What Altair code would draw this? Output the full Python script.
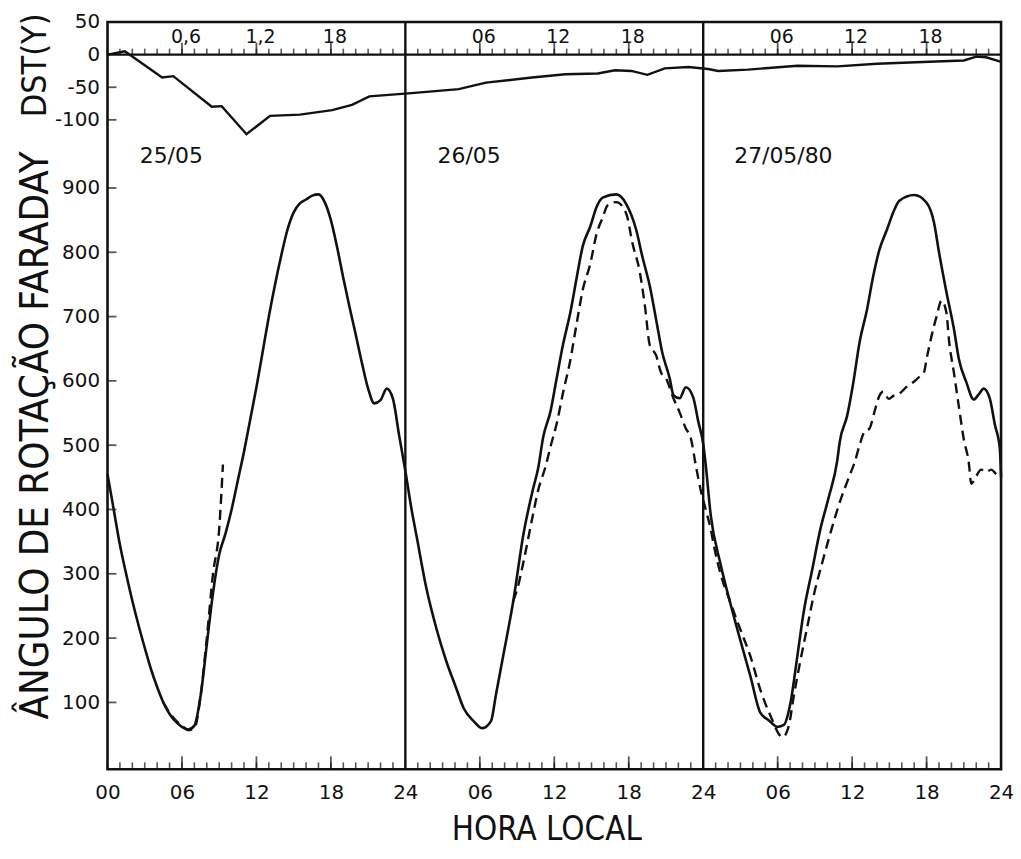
import altair as alt
import pandas as pd

# ---------------- data ----------------
# DST index (gamma), global hour 0..72
dst_hour = [0, 1.4, 4.4, 5.3, 8.4, 9.2, 11.2, 13.1, 15.5, 18.1, 19.7, 21.1, 24.5,
            28.3, 30.5, 34.2, 36.9, 39.5, 40.9, 42.2, 43.5, 44.9, 46.8, 48.4,
            49.2, 51.6, 55.6, 58.8, 62.0, 66.2, 69.0, 70.0, 70.8, 72.0]
dst_value = [0, 5, -35, -33, -80, -79, -122, -94, -92, -85, -77, -64, -59,
             -53, -43, -35, -30, -29, -24, -25, -31, -21, -19, -22,
             -25, -23, -17, -18, -14, -11, -9, -3, -4, -11]

# Faraday rotation angle, solid curve
solid_hour = [0, 0.5, 1, 1.5, 2, 2.5, 3, 3.5, 4, 4.5, 5, 5.5, 6, 6.5, 7, 7.5, 8, 8.5,
              9, 9.5, 10, 10.5, 11, 11.5, 12, 12.5, 13, 13.5, 14, 14.5, 15, 15.5, 16,
              16.5, 17, 17.5, 18, 18.5, 19, 19.5, 20, 20.5, 21, 21.5, 22, 22.5, 23,
              23.5, 24,
              24.5, 24.9, 25.7, 26.5, 27.3, 28.1, 28.7, 29.5, 30.2, 30.9, 31.3, 31.9,
              32.7, 33.5, 34.3, 34.7, 35.1, 35.7, 36.2, 36.7, 37.3, 37.8, 38.3, 38.9,
              39.4, 39.9, 41.0, 41.8, 42.6, 43.1, 43.7, 44.2, 44.7, 45.3, 45.6, 46.1,
              46.6, 47.2, 47.6, 48.0, 48.2,
              48.6, 49.4, 50.2, 51.0, 51.8, 52.6, 53.3, 54.0, 54.5, 55.0, 55.6, 56.1,
              56.8, 57.4, 58.1, 58.8, 59.0, 59.6, 60.1, 60.6, 61.2, 61.7, 62.2, 62.8,
              63.4, 63.8, 65.0, 66.0, 66.6, 67.0, 67.6, 68.2, 68.6, 69.2, 69.8, 70.2,
              70.6, 71.1, 71.5, 71.9, 72.0]
solid_value = [455, 400, 345, 300, 258, 220, 185, 152, 124, 100, 82, 70, 62, 58, 64, 110,
               190, 270, 330, 362, 400, 445, 490, 540, 590, 645, 700, 750, 795, 835, 862,
               876, 882, 888, 890, 878, 850, 808, 760, 715, 672, 628, 588, 565, 570, 588,
               572, 515, 460,
               400, 359, 277, 215, 164, 122, 91, 71, 60, 71, 112, 174,
               258, 360, 433, 464, 512, 553, 605, 656, 707, 760, 810, 840,
               870, 885, 890, 875, 835, 793, 747, 696, 644, 604, 578, 573,
               590, 574, 537, 502, 470,
               392, 315, 253, 196, 141, 84, 72, 62, 65, 96, 174, 241,
               308, 366, 418, 476, 505, 546, 598, 660, 711, 763, 804, 835,
               866, 880, 889, 877, 846, 800, 738, 681, 634, 598, 571, 579,
               588, 572, 532, 495, 450]

# Faraday rotation angle, dashed curve (two pieces)
dash_a_hour = [4.5, 5, 5.5, 6, 6.5, 7, 7.5, 8, 8.5, 9, 9.3]
dash_a_value = [100, 84, 72, 64, 57, 60, 110, 200, 300, 370, 470]

dash_b_hour = [32.7, 33.0, 33.5, 34.2, 34.7, 35.3, 35.7, 36.2, 36.7, 37.3, 37.8, 38.3,
               38.9, 39.4, 39.9, 40.3, 41.0, 41.8, 42.3, 42.9, 43.3, 43.7, 44.2, 44.6,
               45.0, 45.6, 46.1, 46.6, 47.0, 47.4, 47.8, 48.2, 48.6, 48.9, 49.4, 50.2,
               51.0, 51.8, 52.6, 53.4, 54.4, 54.9, 55.3, 55.8, 56.4, 56.9, 57.6, 58.2,
               59.0, 59.8, 60.2, 60.6, 61.0, 61.4, 61.8, 62.2, 62.5, 62.95, 63.35, 63.8,
               64.4, 65.0, 65.4, 65.8, 66.0, 66.4, 66.8, 67.2, 67.6, 67.8, 68.2, 68.6,
               69.0, 69.4, 69.6, 70.0, 70.4, 70.8, 71.2, 71.6, 72.0]
dash_b_value = [258, 275, 317, 384, 430, 467, 498, 534, 581, 633, 689, 742,
                782, 828, 854, 873, 878, 860, 814, 768, 717, 655, 640, 613,
                604, 573, 551, 526, 511, 469, 430, 400, 370, 340, 300, 255,
                213, 172, 120, 80, 46, 64, 110, 162, 219, 266, 318, 360,
                411, 453, 473, 500, 521, 526, 552, 577, 583, 572, 577, 580,
                591, 599, 606, 614, 634, 670, 700, 725, 706, 664, 613, 560,
                509, 473, 440, 452, 462, 458, 462, 455, 448]

day_line_hours = [24, 48]
hour_ticks = list(range(0, 73))
major_hours = [6, 12, 18, 30, 36, 42, 54, 60, 66]
top_label_hours = [6, 12, 18, 30, 36, 42, 54, 60, 66]
top_label_text = ["0,6", "1,2", "18", "06", "12", "18", "06", "12", "18"]
bottom_label_hours = [0, 6, 12, 18, 24, 30, 36, 42, 48, 54, 60, 66, 72]
day_label_text = ["25/05", "26/05", "27/05/80"]
day_label_hour = [2.6, 26.6, 50.5]
day_label_value = [950, 950, 950]
main_tick_values = [100, 200, 300, 400, 500, 600, 700, 800, 900]
dst_tick_values = [50, 0, -50, -100]
dst_inner_ticks = [-50, -100]

MAIN_MIN, MAIN_MAX = -4, 1158
DST_MIN, DST_MAX = -1096, 50

# ---------------- tables ----------------
rows = []
for h, v in zip(solid_hour, solid_value):
    rows.append({"hour": h, "value": v, "kind": "solid", "seg": "s"})
for h, v in zip(dash_a_hour, dash_a_value):
    rows.append({"hour": h, "value": v, "kind": "dash", "seg": "a"})
for h, v in zip(dash_b_hour, dash_b_value):
    rows.append({"hour": h, "value": v, "kind": "dash", "seg": "b"})
far = pd.DataFrame(rows)
dst = pd.DataFrame({"hour": dst_hour, "dst": dst_value})
ticks = pd.DataFrame({"hour": hour_ticks, "base": MAIN_MIN, "zero": 0})
majors = pd.DataFrame({"hour": major_hours, "base": MAIN_MIN, "zero": 0})
toplab = pd.DataFrame({"hour": top_label_hours, "txt": top_label_text, "zero": 0})
daylab = pd.DataFrame({"hour": day_label_hour, "value": day_label_value, "txt": day_label_text})
daylines = pd.DataFrame({"hour": day_line_hours})
mticks = pd.DataFrame({"value": main_tick_values, "hour": 0})
dticks = pd.DataFrame({"dst": dst_inner_ticks, "hour": 0})
zline = pd.DataFrame({"dst": [0]})

NUM_FONT = "DejaVu Sans"
TITLE_FONT = "Liberation Sans Narrow, DejaVu Sans Condensed, Liberation Sans, sans-serif"
INK = "#111111"

W, H = 898, 751


def xs():
    return alt.Scale(domain=[0, 72], nice=False, zero=False)


def ym():
    return alt.Scale(domain=[MAIN_MIN, MAIN_MAX], nice=False, zero=False)


def yd():
    return alt.Scale(domain=[DST_MIN, DST_MAX], nice=False, zero=False)


def bottom_axis():
    return alt.Axis(
        orient="bottom", values=bottom_label_hours, ticks=False, domain=False, grid=False,
        labelFlush=False,
        labelExpr="datum.value == 0 ? '00' : (datum.value % 24 == 0 ? '24' : ((datum.value % 24) < 10 ? '0' : '') + (datum.value % 24))",
        labelFont=NUM_FONT, labelFontSize=20, labelColor=INK, labelPadding=13,
        title="HORA LOCAL", titleFont=TITLE_FONT, titleFontSize=33, titleFontWeight="normal",
        titleColor=INK, titlePadding=12, titleX=441,
    )


def X(field="hour"):
    return alt.X(f"{field}:Q", scale=xs(), axis=bottom_axis())


main_axis = alt.Axis(
    orient="left", values=main_tick_values, ticks=False, domain=False, grid=False,
    labelFont=NUM_FONT, labelFontSize=20, labelColor=INK, labelPadding=8,
    title="ÂNGULO DE ROTAÇÃO FARADAY", titleFont=TITLE_FONT, titleFontSize=40,
    titleFontWeight="normal", titleColor=INK, titleAngle=270, titleX=-72, titleY=415,
    titleBaseline="middle", titleAlign="center",
)
dst_axis = alt.Axis(
    orient="left", values=dst_tick_values, ticks=False, domain=False, grid=False,
    labelFont=NUM_FONT, labelFontSize=20, labelColor=INK, labelPadding=8,
    labelExpr="datum.value < 0 ? '-' + abs(datum.value) : '' + datum.value",
    title="DST(Y)", titleFont=TITLE_FONT, titleFontSize=34, titleFontWeight="normal",
    titleColor=INK, titleAngle=270, titleX=-72, titleY=43,
    titleBaseline="middle", titleAlign="center",
)

base_far = alt.Chart(far)
solid = base_far.transform_filter("datum.kind == 'solid'").mark_line(
    color=INK, strokeWidth=2.6, interpolate="monotone"
).encode(
    x=X(),
    y=alt.Y("value:Q", scale=ym(), axis=main_axis),
)
dashed = base_far.transform_filter("datum.kind == 'dash'").mark_line(
    color=INK, strokeWidth=2.4, strokeDash=[10, 6], interpolate="monotone"
).encode(
    x=X(),
    y=alt.Y("value:Q", scale=ym(), axis=None),
    detail="seg:N",
)
day_rules = alt.Chart(daylines).mark_rule(color=INK, strokeWidth=2.4).encode(x=X())
bottom_minor = alt.Chart(ticks).mark_tick(
    orient="vertical", color=INK, size=7, thickness=1.6, yOffset=-3.5
).encode(x=X(), y=alt.Y("base:Q", scale=ym(), axis=None))
bottom_major = alt.Chart(majors).mark_tick(
    orient="vertical", color=INK, size=13, thickness=1.8, yOffset=-6.5
).encode(x=X(), y=alt.Y("base:Q", scale=ym(), axis=None))
left_ticks = alt.Chart(mticks).mark_tick(
    orient="horizontal", color=INK, size=9, thickness=1.8, xOffset=4.5
).encode(x=X(), y=alt.Y("value:Q", scale=ym(), axis=None))
day_text = alt.Chart(daylab).mark_text(
    font=NUM_FONT, fontSize=22, color=INK, align="left", baseline="middle"
).encode(
    x=X(),
    y=alt.Y("value:Q", scale=ym(), axis=None),
    text="txt:N",
)

dst_line = alt.Chart(dst).mark_line(color=INK, strokeWidth=2.4).encode(
    x=X(),
    y=alt.Y("dst:Q", scale=yd(), axis=dst_axis),
)
zero_rule = alt.Chart(zline).mark_rule(color=INK, strokeWidth=2.2).encode(
    y=alt.Y("dst:Q", scale=yd(), axis=None)
)
top_minor = alt.Chart(ticks).mark_tick(
    orient="vertical", color=INK, size=6, thickness=1.6, yOffset=-3
).encode(x=X(), y=alt.Y("zero:Q", scale=yd(), axis=None))
top_major = alt.Chart(majors).mark_tick(
    orient="vertical", color=INK, size=12, thickness=1.8, yOffset=-6
).encode(x=X(), y=alt.Y("zero:Q", scale=yd(), axis=None))
dst_left_ticks = alt.Chart(dticks).mark_tick(
    orient="horizontal", color=INK, size=9, thickness=1.8, xOffset=4.5
).encode(x=X(), y=alt.Y("dst:Q", scale=yd(), axis=None))
top_text = alt.Chart(toplab).mark_text(
    font=NUM_FONT, fontSize=19, color=INK, align="center", baseline="bottom", dy=-8, dx=4
).encode(
    x=X(),
    y=alt.Y("zero:Q", scale=yd(), axis=None),
    text="txt:N",
)

chart = alt.layer(
    solid, dashed, day_rules, bottom_minor, bottom_major, left_ticks, day_text,
    dst_line, zero_rule, top_minor, top_major, dst_left_ticks, top_text,
).resolve_scale(y="independent").properties(
    width=W, height=H,
    autosize=alt.AutoSizeParams(type="none"),
    padding={"left": 100, "top": 12, "right": 12, "bottom": 80},
    background="white",
).configure_view(stroke=INK, strokeWidth=2.6)

chart.save("out.html", embed_options={"renderer": "svg", "actions": False})
